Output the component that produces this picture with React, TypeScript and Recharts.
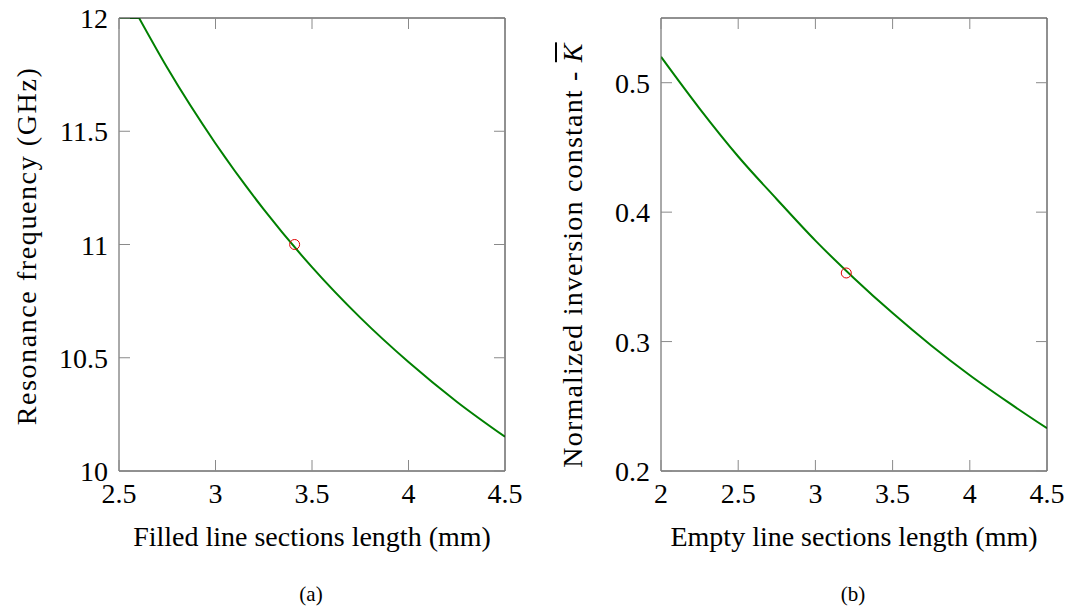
import { LineChart, Line, XAxis, YAxis, ReferenceDot } from 'recharts';

// (a) resonance frequency vs filled line section length
const clippedLength = [2.5, 2.604];
const clippedGHz = [12, 12];
const filledLength = [2.604, 2.75, 3.0, 3.25, 3.5, 3.75, 4.0, 4.25, 4.5];
const resonanceGHz = [12, 11.78, 11.446, 11.155, 10.9, 10.677, 10.481, 10.306, 10.151];
const filledTicks = [2.5, 3, 3.5, 4, 4.5];
const resonanceTicks = [10, 10.5, 11, 11.5, 12];
const designA = [3.41, 11];

// (b) normalized inversion constant vs empty line section length
const emptyLength = [2.0, 2.25, 2.5, 2.75, 3.0, 3.25, 3.5, 3.75, 4.0, 4.25, 4.5];
const inversionK = [0.52, 0.48, 0.443, 0.41, 0.378, 0.349, 0.322, 0.297, 0.274, 0.253, 0.233];
const emptyTicks = [2, 2.5, 3, 3.5, 4, 4.5];
const inversionTicks = [0.2, 0.3, 0.4, 0.5];
const designB = [3.2, 0.353];

const FONT = "'Liberation Serif', 'Times New Roman', Times, 'DejaVu Serif', 'Noto Serif', serif";
const GREEN = '#008000';
const TICK = '#8a8a8a';
const TICK_LEN = 11;

const toRows = (xs: number[], ys: number[]) => xs.map((x, i) => ({ x, y: ys[i] }));

function BottomTick(props: any) {
  const { x, y, payload } = props;
  return (
    <g>
      <line x1={x} x2={x} y1={y} y2={y - TICK_LEN} stroke={TICK} />
      <text x={x} y={y + 32} textAnchor="middle" style={{ fontFamily: FONT, fontSize: 28 }} fill="#000">
        {payload.value}
      </text>
    </g>
  );
}

function TopTick(props: any) {
  const { x, y } = props;
  return <line x1={x} x2={x} y1={y} y2={y + TICK_LEN} stroke={TICK} />;
}

function LeftTick(props: any) {
  const { x, y, payload } = props;
  return (
    <g>
      <line x1={x} x2={x + TICK_LEN} y1={y} y2={y} stroke={TICK} />
      <text x={x - 11} y={y + 10} textAnchor="end" style={{ fontFamily: FONT, fontSize: 28 }} fill="#000">
        {payload.value}
      </text>
    </g>
  );
}

function RightTick(props: any) {
  const { x, y } = props;
  return <line x1={x} x2={x - TICK_LEN} y1={y} y2={y} stroke={TICK} />;
}

interface PanelProps {
  series: { x: number; y: number }[][];
  xTicks: number[];
  yTicks: number[];
  xDomain: [number, number];
  yDomain: [number, number];
  point: number[];
  width: number;
  left: number;
  right: number;
}

function Panel({ series, xTicks, yTicks, xDomain, yDomain, point, width, left, right }: PanelProps) {
  return (
    <LineChart width={width} height={609} margin={{ top: 17, right: right - 1, bottom: 137, left: left - 1 }}>
      <XAxis
        dataKey="x"
        type="number"
        domain={xDomain}
        ticks={xTicks}
        interval={0}
        allowDataOverflow
        height={1}
        tickSize={0}
        tickMargin={0}
        tickLine={false}
        tick={(p: any) => <BottomTick {...p} />}
        axisLine={{ stroke: '#222' }}
      />
      <XAxis
        xAxisId="top"
        orientation="top"
        dataKey="x"
        type="number"
        domain={xDomain}
        ticks={xTicks}
        interval={0}
        allowDataOverflow
        height={1}
        tickSize={0}
        tickMargin={0}
        tickLine={false}
        tick={(p: any) => <TopTick {...p} />}
        axisLine={{ stroke: '#222' }}
      />
      <YAxis
        type="number"
        domain={yDomain}
        ticks={yTicks}
        interval={0}
        allowDataOverflow
        width={1}
        tickSize={0}
        tickMargin={0}
        tickLine={false}
        tick={(p: any) => <LeftTick {...p} />}
        axisLine={{ stroke: '#555' }}
      />
      <YAxis
        yAxisId="right"
        orientation="right"
        type="number"
        domain={yDomain}
        ticks={yTicks}
        interval={0}
        allowDataOverflow
        width={1}
        tickSize={0}
        tickMargin={0}
        tickLine={false}
        tick={(p: any) => <RightTick {...p} />}
        axisLine={{ stroke: '#222' }}
      />
      {series.map((rows, i) => (
        <Line
          key={i}
          data={rows}
          type="monotone"
          dataKey="y"
          stroke={GREEN}
          strokeWidth={2}
          dot={false}
          isAnimationActive={false}
        />
      ))}
      <ReferenceDot x={point[0]} y={point[1]} r={5} fill="none" stroke="#e00000" strokeWidth={1} ifOverflow="visible" />
    </LineChart>
  );
}

const textBase: React.CSSProperties = {
  position: 'absolute',
  fontFamily: FONT,
  whiteSpace: 'nowrap',
  transform: 'translate(-50%, -50%)',
  color: '#000',
  lineHeight: 1,
};

export default function App() {
  return (
    <div style={{ position: 'absolute', left: 0, top: 0, width: 1068, height: 609, background: '#fff' }}>
      <div style={{ position: 'absolute', left: 0, top: 0 }}>
        <Panel
          series={[toRows(clippedLength, clippedGHz), toRows(filledLength, resonanceGHz)]}
          xTicks={filledTicks}
          yTicks={resonanceTicks}
          xDomain={[2.5, 4.5]}
          yDomain={[10, 12]}
          point={designA}
          width={530}
          left={119}
          right={25}
        />
      </div>
      <div style={{ position: 'absolute', left: 540, top: 0 }}>
        <Panel
          series={[toRows(emptyLength, inversionK)]}
          xTicks={emptyTicks}
          yTicks={inversionTicks}
          xDomain={[2, 4.5]}
          yDomain={[0.2, 0.55]}
          point={designB}
          width={528}
          left={121}
          right={21}
        />
      </div>

      <div
        style={{
          ...textBase,
          left: 27,
          top: 246,
          fontSize: 28,
          letterSpacing: 1.6,
          transform: 'translate(-50%, -50%) rotate(-90deg)',
        }}
      >
        Resonance frequency (GHz)
      </div>
      <div style={{ ...textBase, left: 312, top: 537, fontSize: 28 }}>Filled line sections length (mm)</div>
      <div style={{ ...textBase, left: 311, top: 594, fontSize: 21 }}>(a)</div>

      <div
        style={{
          ...textBase,
          left: 573,
          top: 255,
          fontSize: 28,
          letterSpacing: 1.2,
          transform: 'translate(-50%, -50%) rotate(-90deg)',
        }}
      >
        Normalized inversion constant -{' '}
        <span style={{ fontStyle: 'italic', textDecoration: 'overline' }}>K</span>
      </div>
      <div style={{ ...textBase, left: 854, top: 537, fontSize: 28 }}>Empty line sections length (mm)</div>
      <div style={{ ...textBase, left: 853, top: 594, fontSize: 21 }}>(b)</div>
    </div>
  );
}
